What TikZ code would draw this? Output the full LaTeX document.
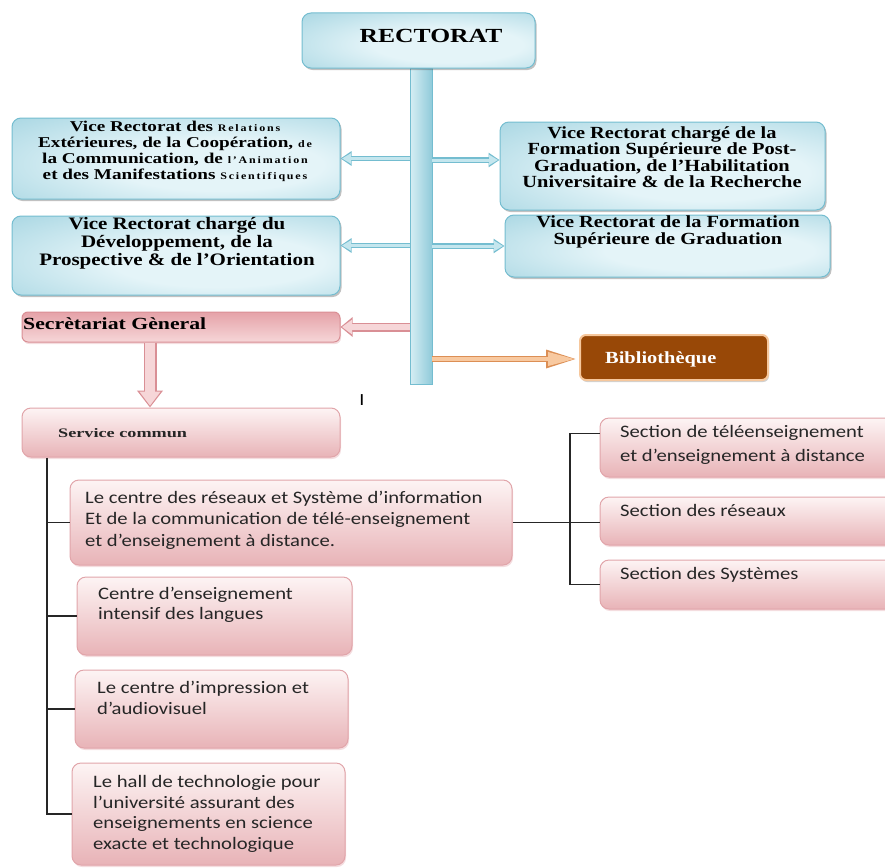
\documentclass[tikz,border=0pt]{standalone}
\usepackage{fontspec}
\setmainfont{Liberation Serif}
\newfontfamily\trfont[FakeStretch=1.2]{Liberation Serif}
\newfontfamily\trwide[FakeStretch=1.28]{Liberation Serif}
\newfontfamily\trxwide[FakeStretch=1.4]{Liberation Serif}
\newfontfamily\trspaced[FakeStretch=1.2,LetterSpace=18]{Liberation Serif}
\newfontfamily\clfont[FakeStretch=1.18]{Carlito}
\usetikzlibrary{arrows.meta,shadows,calc}

\definecolor{blueD}{HTML}{74BDD0}
\definecolor{blueM}{HTML}{93CCDB}
\definecolor{blueL}{HTML}{E4F4F8}
\definecolor{blueA}{HTML}{C4E6EE}
\definecolor{pinkD}{HTML}{D98F95}
\definecolor{pinkM}{HTML}{E8B3B7}
\definecolor{pinkL}{HTML}{FDF4F4}
\definecolor{pinkS}{HTML}{E5A2A8}
\definecolor{pinkA}{HTML}{F6D6D8}
\definecolor{bibfill}{HTML}{984807}
\definecolor{bibedge}{HTML}{F6C79C}
\definecolor{orngL}{HTML}{F8C9A0}
\definecolor{orngD}{HTML}{DC8F55}

% soft blue fill: pale centre, deeper blue towards the rim
\pgfdeclareradialshading{bluesoft}{\pgfpoint{8bp}{-5bp}}{%
  color(0bp)=(blueL); color(16bp)=(blueL); color(40bp)=(blueM!70!blueL);
  color(55bp)=(blueM); color(80bp)=(blueM)}

\tikzset{
  bluebox/.style={draw=blueD, line width=1pt, rounded corners=9pt,
    shading=bluesoft, inner sep=0pt,
    drop shadow={shadow xshift=1.5pt, shadow yshift=-2pt, opacity=0.35, fill=black!70}},
  pinkbox/.style={draw=pinkD!80, line width=1pt, rounded corners=9pt,
    top color=pinkL, bottom color=pinkM, inner sep=0pt,
    drop shadow={shadow xshift=1pt, shadow yshift=-2pt, opacity=0.3, fill=pinkD}},
  vrtext/.style={font=\trfont\bfseries\fontsize{17}{16.5}\selectfont, align=center, inner sep=0pt},
  cltext/.style={font=\clfont\fontsize{17.5}{21.5}\selectfont, align=left, inner sep=0pt,
    text=black!85, anchor=west},
  tree/.style={draw=black!85, line width=1.3pt},
  bluearrow/.style={line width=3pt, draw=blueA, shorten >=1.5pt,
    -{Triangle[length=9pt,width=10pt]},
    preaction={draw=blueD, line width=5.5pt, shorten >=0pt,
      -{Triangle[length=11pt,width=14pt]}}},
  pinkarrow/.style={line width=6pt, draw=pinkA, shorten >=1.5pt,
    -{Triangle[length=10pt,width=14pt]},
    preaction={draw=pinkD, line width=9pt, shorten >=0pt,
      -{Triangle[length=12pt,width=19pt]}}},
  downarrow/.style={line width=10pt, draw=pinkA, shorten >=1.8pt,
    -{Triangle[length=14pt,width=20pt]},
    preaction={draw=pinkD, line width=13pt, shorten >=0pt,
      -{Triangle[length=17pt,width=25pt]}}},
  orangearrow/.style={line width=3.5pt, draw=orngL, shorten >=2pt,
    -{Triangle[length=27pt,width=13pt]},
    preaction={draw=orngD, line width=6pt, shorten >=0pt,
      -{Triangle[length=31pt,width=17pt]}}},
}

\begin{document}
\begin{tikzpicture}[x=1pt,y=-1pt]
\useasboundingbox (0,0) rectangle (885,867);
\clip (0,0) rectangle (885,867);

% central spine below the rectorate
\node[draw=blueD, line width=0.8pt, left color=blueA!70!white, right color=blueM!90!blueD,
      minimum width=22pt, minimum height=316pt, inner sep=0pt] (spine) at (421,226) {};

% rectorate
\node[bluebox, minimum width=233pt, minimum height=55pt] (rect) at (418.5,40.5) {};
\node[inner sep=0pt, font=\trwide\bfseries\fontsize{20}{20}\selectfont] (rectt) at (431,36) {RECTORAT};

% vice-rectorates
\node[bluebox, minimum width=328pt, minimum height=81pt] (vrl1) at (176,158.5) {};
\node[vrtext, font=\trwide\bfseries\fontsize{15}{16}\selectfont] (vrl1t) at (175,151)
  {Vice Rectorat des {\trspaced\fontsize{10}{16}\selectfont Relations}\\
   Extérieures, de la Coopération, {\trspaced\fontsize{10}{16}\selectfont de}\\
   la Communication, de {\trspaced\fontsize{10}{16}\selectfont l’Animation}\\
   et des Manifestations {\trspaced\fontsize{10}{16}\selectfont Scientifiques}};

\node[bluebox, minimum width=328pt, minimum height=79pt] (vrl2) at (176,255.5) {};
\node[vrtext, font=\trfont\bfseries\fontsize{17.5}{18}\selectfont] (vrl2t) at (177,243)
  {Vice Rectorat chargé du\\ Développement, de la\\ Prospective \& de l’Orientation};

\node[bluebox, minimum width=325pt, minimum height=88pt] (vrr1) at (662.5,166) {};
\node[vrtext] (vrr1t) at (662,157)
  {Vice Rectorat chargé de la\\ Formation Supérieure de Post-\\ Graduation, de l’Habilitation\\ Universitaire \& de la Recherche};

\node[bluebox, minimum width=325pt, minimum height=62pt] (vrr2) at (667.5,246) {};
\node[vrtext] (vrr2t) at (668,232)
  {Vice Rectorat de la Formation\\ Supérieure de Graduation};

% arrows from the spine to the vice-rectorates
\draw[bluearrow] (spine.west |- vrl1.east) -- (vrl1.east);
\draw[bluearrow] ($(spine.west |- vrl2.east)+(0,-10)$) -- ($(vrl2.east)+(0,-10)$);
\draw[bluearrow] ($(spine.east |- vrr1.west)+(0,-6)$) -- ($(vrr1.west)+(0,-6)$);
\draw[bluearrow] (spine.east |- vrr2.west) -- (vrr2.west);

% general secretariat
\node[draw=pinkD, line width=1pt, rounded corners=6pt, top color=pinkS, bottom color=pinkA,
      minimum width=318pt, minimum height=30pt, inner sep=0pt,
      drop shadow={shadow xshift=1pt, shadow yshift=-2pt, opacity=0.3, fill=pinkD}] (sg) at (181,327) {};
\node[inner sep=0pt, anchor=west, font=\trwide\bfseries\fontsize{17}{17}\selectfont] (sgt) at (23,324)
  {Secrètariat Gèneral};
\draw[pinkarrow] (spine.west |- sg.east) -- (sg.east);

% library
\node[draw=bibedge, line width=2pt, rounded corners=6pt, fill=bibfill,
      minimum width=188pt, minimum height=45pt, inner sep=0pt,
      drop shadow={shadow xshift=1pt, shadow yshift=-2pt, opacity=0.3, fill=black!60}] (bib) at (674,357.5) {};
\node[inner sep=0pt, anchor=west, text=white, font=\trfont\bfseries\fontsize{17}{17}\selectfont] (bibt) at (605,359)
  {Bibliothèque};
\draw[orangearrow] ($(spine.east |- bib.west)+(0,1.5)$) -- ($(bib.west)+(-2,1.5)$);

\node[inner sep=0pt, font=\clfont\fontsize{17}{17}\selectfont] (mark) at (362,400) {I};

% common service
\node[pinkbox, minimum width=318pt, minimum height=49pt] (sc) at (181,432.5) {};
\node[inner sep=0pt, anchor=west, text=black!85, font=\trxwide\bfseries\fontsize{13}{13}\selectfont] (sct) at (58,433)
  {Service commun};
\draw[downarrow] (sg.south -| 150,0) -- (sc.north -| 150,0);

% units of the common service
\node[pinkbox, minimum width=442pt, minimum height=85pt] (crs) at (291,522.5) {};
\node[cltext] (crst) at (85,520)
  {Le centre des réseaux et Système d’information\\ Et de la communication de télé-enseignement\\ et d’enseignement à distance.};

\node[pinkbox, minimum width=275pt, minimum height=78pt] (cel) at (214.5,616) {};
\node[cltext, font=\clfont\fontsize{17.5}{20.5}\selectfont] (celt) at (98,605)
  {Centre d’enseignement\\ intensif des langues};

\node[pinkbox, minimum width=273pt, minimum height=78pt] (cia) at (211.5,709) {};
\node[cltext, font=\clfont\fontsize{17.5}{20.5}\selectfont] (ciat) at (97,698)
  {Le centre d’impression et\\ d’audiovisuel};

\node[pinkbox, minimum width=273pt, minimum height=102pt] (hall) at (208.5,814) {};
\node[cltext, font=\clfont\fontsize{17.5}{20.7}\selectfont] (hallt) at (93,814)
  {Le hall de technologie pour\\ l’université assurant des\\ enseignements en science\\ exacte et technologique};

% sections of the network centre
\node[pinkbox, minimum width=295pt, minimum height=59pt] (s1) at (747.5,447.5) {};
\node[cltext, font=\clfont\fontsize{17.5}{23.5}\selectfont] (s1t) at (620,445)
  {Section de téléenseignement\\ et d’enseignement à distance};
\node[pinkbox, minimum width=295pt, minimum height=48pt] (s2) at (747.5,521) {};
\node[cltext] (s2t) at (620,510) {Section des réseaux};
\node[pinkbox, minimum width=295pt, minimum height=49pt] (s3) at (747.5,584.5) {};
\node[cltext] (s3t) at (620,575) {Section des Systèmes};

% tree connectors
\coordinate (trunk) at (47,0);
\coordinate (brk) at (570,0);
\coordinate (s1tick) at ($(s1.west)+(0,-14)$);
\draw[tree] (sc.south -| trunk) -- (trunk |- hall.west) -- (hall.west);
\draw[tree] (trunk |- crs.west) -- (crs.west);
\draw[tree] (trunk |- cel.west) -- (cel.west);
\draw[tree] (trunk |- cia.west) -- (cia.west);
\draw[tree] (crs.east) -- (crs.east -| s2.west);
\draw[tree] (s1tick) -- (brk |- s1tick) -- (brk |- s3.west) -- (s3.west);
\end{tikzpicture}
\end{document}
